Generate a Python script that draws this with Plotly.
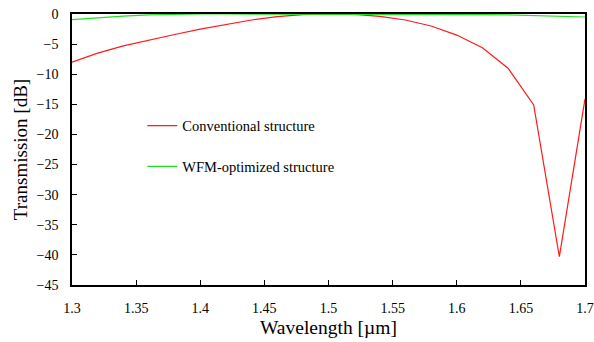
import plotly.graph_objects as go

wavelength = [1.30, 1.32, 1.34, 1.36, 1.38, 1.40, 1.42, 1.44, 1.46, 1.48, 1.50,
              1.52, 1.54, 1.56, 1.58, 1.60, 1.62, 1.64, 1.66, 1.68, 1.70]
conventional = [-8.0, -6.5, -5.3, -4.3, -3.4, -2.5, -1.7, -1.0, -0.45, -0.1, 0.0,
                -0.05, -0.4, -1.0, -2.0, -3.5, -5.6, -9.0, -15.1, -40.3, -14.1]
wfm_optimized = [-0.95, -0.6, -0.35, -0.15, -0.05, 0.0, 0.0, 0.0, 0.0, 0.0, 0.0,
                 0.0, 0.0, 0.0, -0.02, -0.05, -0.1, -0.15, -0.25, -0.35, -0.5]
series_names = ["Conventional structure", "WFM-optimized structure"]
x_ticks = [1.3, 1.35, 1.4, 1.45, 1.5, 1.55, 1.6, 1.65, 1.7]
x_tick_text = ["1.3", "1.35", "1.4", "1.45", "1.5", "1.55", "1.6", "1.65", "1.7"]
y_ticks = [0, -5, -10, -15, -20, -25, -30, -35, -40, -45]

FONT = "'Liberation Serif', 'Times New Roman', serif"

fig = go.Figure()
fig.add_trace(go.Scatter(x=wavelength, y=conventional, mode="lines",
                         name=series_names[0], legendgroup="a",
                         line=dict(color="#ff1a1a", width=1.2)))
fig.add_trace(go.Scatter(x=wavelength, y=wfm_optimized, mode="lines",
                         name=series_names[1], legendgroup="b",
                         line=dict(color="#1ee01e", width=1.2)))

axis_common = dict(showline=True, linecolor="black", linewidth=1.5, mirror=True,
                   ticks="inside", ticklen=5, tickcolor="black", showgrid=False,
                   zeroline=False, automargin=False, ticklabelstandoff=9,
                   tickfont=dict(family=FONT, size=14, color="black"))

fig.update_layout(
    width=594, height=342,
    margin=dict(l=72, r=9, t=14, b=57),
    paper_bgcolor="white", plot_bgcolor="white",
    font=dict(family=FONT, color="black"),
    xaxis=dict(range=[1.3, 1.7], tickvals=x_ticks, ticktext=x_tick_text,
               title=dict(text="Wavelength [µm]", font=dict(family=FONT, size=19.5), standoff=6),
               **axis_common),
    yaxis=dict(range=[-45, 0], tickvals=y_ticks,
               title=dict(text="Transmission [dB]", font=dict(family=FONT, size=19), standoff=4),
               **axis_common),
    legend=dict(x=0.137, y=0.647, xanchor="left", yanchor="top",
                bgcolor="rgba(0,0,0,0)", font=dict(family=FONT, size=14.5),
                tracegroupgap=19, itemwidth=30),
    showlegend=True,
)

fig.write_html("out.html")
